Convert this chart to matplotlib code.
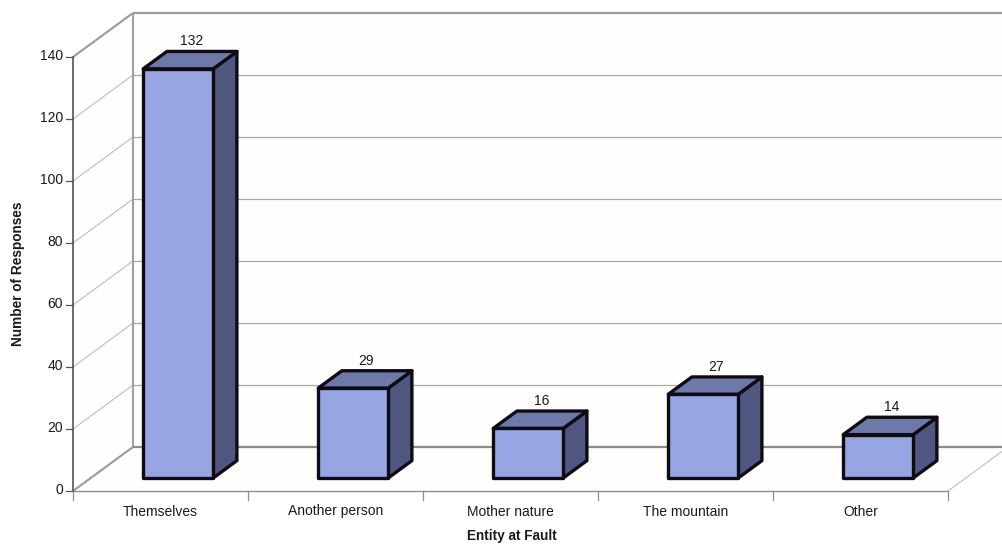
import matplotlib
matplotlib.use("Agg")
import matplotlib.pyplot as plt
from matplotlib.patches import Polygon

plt.rcParams['font.family'] = ['Liberation Sans', 'DejaVu Sans']

categories = ["Themselves", "Another person", "Mother nature", "The mountain", "Other"]
responses = [132, 29, 16, 27, 14]
y_ticks = [0, 20, 40, 60, 80, 100, 120, 140]
x_title = "Entity at Fault"
y_title = "Number of Responses"

# Pixel scale of the oblique projection
W, H = 1002, 545
PX_PER_CAT = 175.0
PX_PER_VAL = 3.1
ORIGIN_X, ORIGIN_Y = 73.0, 491.0
DEPTH_X, DEPTH_Y = 60.0, 44.0

fig = plt.figure(figsize=(W / 100, H / 100), dpi=100, facecolor="white")
ax = fig.add_axes([0, 0, 1, 1])
ax.set_xlim(-ORIGIN_X / PX_PER_CAT, (W - ORIGIN_X) / PX_PER_CAT)
ax.set_ylim((ORIGIN_Y - H) / PX_PER_VAL, ORIGIN_Y / PX_PER_VAL)
ax.axis("off")


def proj(cat, val, depth=0.0):
    """Category/value/depth (0 front, 1 back) to axes data coordinates."""
    return (cat + depth * DEPTH_X / PX_PER_CAT, val + depth * DEPTH_Y / PX_PER_VAL)


n = len(categories)
top = y_ticks[-1]
wall = "#FFFEFC"
grid = "#A9A9A4"
axis_line = "#8E8E8A"

# Back wall, side wall and floor
ax.add_patch(Polygon([proj(0, 0, 1), proj(n, 0, 1), proj(n, top, 1), proj(0, top, 1)],
                     fc=wall, ec="none", zorder=1))
ax.add_patch(Polygon([proj(0, 0, 0), proj(0, 0, 1), proj(0, top, 1), proj(0, top, 0)],
                     fc=wall, ec="none", zorder=1))
ax.add_patch(Polygon([proj(0, 0, 0), proj(n, 0, 0), proj(n, 0, 1), proj(0, 0, 1)],
                     fc=wall, ec="none", zorder=1))

# Gridlines run along the back wall and down the side wall
for v in y_ticks[1:-1]:
    xs, ys = zip(proj(0, v, 1), proj(n, v, 1))
    ax.plot(xs, ys, color=grid, lw=0.9, zorder=2)
    xs, ys = zip(proj(0, v, 0), proj(0, v, 1))
    ax.plot(xs, ys, color="#BDBDB8", lw=0.8, zorder=2)

# Wall outlines
outlines = [
    (proj(0, top, 0), proj(0, top, 1), "#9A9A96", 1.5),
    (proj(0, top, 1), proj(n, top, 1), "#9A9A96", 1.6),
    (proj(0, 0, 1), proj(0, top, 1), "#A0A09C", 1.5),
    (proj(0, 0, 1), proj(n, 0, 1), "#8F8A88", 1.6),
    (proj(0, 0, 0), proj(0, 0, 1), "#9A9A96", 1.5),
    (proj(n, 0, 0), proj(n, 0, 1), "#C4C4C0", 0.9),
    (proj(0, 0, 0), proj(n, 0, 0), axis_line, 1.0),
]
for a, b, c, lw in outlines:
    ax.plot([a[0], b[0]], [a[1], b[1]], color=c, lw=lw, zorder=2, solid_capstyle="butt")
ax.plot(*zip(proj(0, 0, 0), proj(0, top, 0)), color="#55554F", lw=1.2, zorder=3)

# Axis ticks and labels
tick_dx = 7 / PX_PER_CAT
tick_dy = 9 / PX_PER_VAL
for v in y_ticks:
    ax.plot([-tick_dx, 0], [v, v], color="#55554F", lw=0.9, zorder=3)
    ax.text(-tick_dx - 3 / PX_PER_CAT, v + 0.3, str(v), ha="right", va="center",
            fontsize=10, color="#1A1A1A")
for i in range(n + 1):
    ax.plot([i, i], [0, -tick_dy], color=axis_line, lw=0.9, zorder=3)
for i, name in enumerate(categories):
    ax.text(i + 0.5, -24.5 / PX_PER_VAL, name, ha="center", va="baseline",
            fontsize=10, color="#1A1A1A")

# Bars: front face, top and right side, drawn from the response counts
BAR_WIDTH = 70 / PX_PER_CAT
BAR_D0 = 0.295
BAR_D1 = 0.69
LABEL_SHIFT = 13 / PX_PER_CAT
edge = "#0E0B14"
for i, val in enumerate(responses):
    x0 = i + 0.5 - BAR_WIDTH / 2
    x1 = x0 + BAR_WIDTH
    front = [proj(x0, 0, BAR_D0), proj(x1, 0, BAR_D0), proj(x1, val, BAR_D0), proj(x0, val, BAR_D0)]
    lid = [proj(x0, val, BAR_D0), proj(x1, val, BAR_D0), proj(x1, val, BAR_D1), proj(x0, val, BAR_D1)]
    side = [proj(x1, 0, BAR_D0), proj(x1, 0, BAR_D1), proj(x1, val, BAR_D1), proj(x1, val, BAR_D0)]
    for pts, col in ((side, "#4F5780"), (lid, "#6D79A8"), (front, "#97A5E2")):
        ax.add_patch(Polygon(pts, fc=col, ec=edge, lw=2.4, joinstyle="round", zorder=5))
    lx, ly = proj(i + 0.5, val, BAR_D0)
    ax.text(lx + LABEL_SHIFT, ly + 7.6, str(val), ha="center", va="baseline", fontsize=10,
            color="#1A1A1A", zorder=6)

# Axis titles
ax.text(439 / PX_PER_CAT, -49 / PX_PER_VAL, x_title, ha="center", va="baseline",
        fontsize=9.8, fontweight="bold", color="#1A1A1A")
ax.text(-55 / PX_PER_CAT, 217 / PX_PER_VAL, y_title, ha="center", va="center",
        rotation=90, fontsize=9.8, fontweight="bold", color="#1A1A1A")

fig.savefig("out.png", dpi=100, facecolor="white")
